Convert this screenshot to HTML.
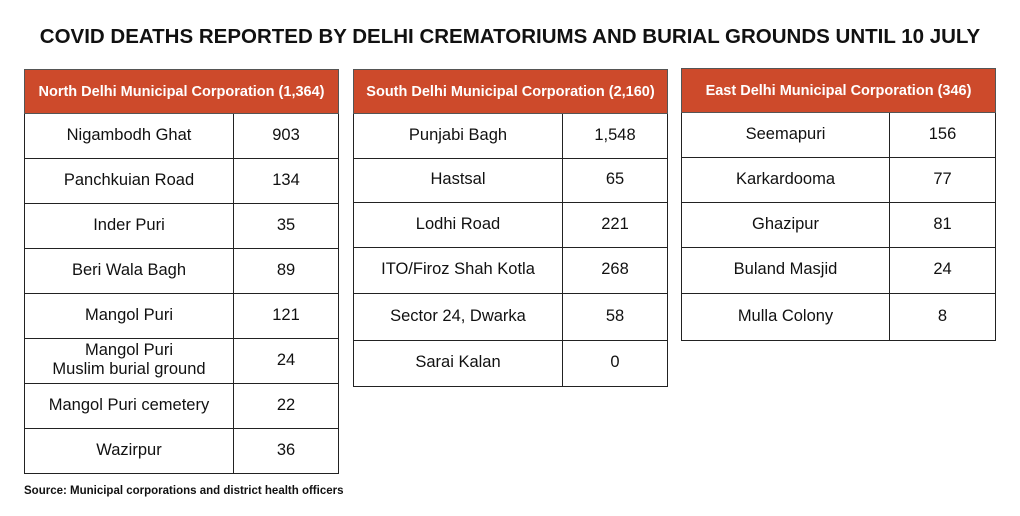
<!DOCTYPE html>
<html><head><meta charset="utf-8"><style>
body{margin:0;width:1020px;height:516px;background:#fff;font-family:"Liberation Sans",sans-serif;position:relative;overflow:hidden;color:#111}
.title{position:absolute;left:0;width:1020px;top:25px;text-align:center;font-weight:bold;font-size:20.5px;letter-spacing:0}
table{position:absolute;border-collapse:collapse;table-layout:fixed;width:314px}
th{background:#cd4a2b;color:#fff;font-size:14.5px;font-weight:bold;height:43px;padding:0;border:1px solid #555;text-align:center;white-space:nowrap}
td{border:1px solid #222;text-align:center;font-size:16.5px;padding:0 0 2px 0;line-height:19px;white-space:nowrap}
.src{position:absolute;left:24px;top:485px;font-size:11.5px;font-weight:bold}
</style></head><body>
<div class="title">COVID DEATHS REPORTED BY DELHI CREMATORIUMS AND BURIAL GROUNDS UNTIL 10 JULY</div>

<table style="left:24px;top:69px">
<colgroup><col style="width:209px"><col style="width:105px"></colgroup>
<tr><th colspan="2">North Delhi Municipal Corporation (1,364)</th></tr>
<tr style="height:45px"><td>Nigambodh Ghat</td><td>903</td></tr>
<tr style="height:45px"><td>Panchkuian Road</td><td>134</td></tr>
<tr style="height:45px"><td>Inder Puri</td><td>35</td></tr>
<tr style="height:45px"><td>Beri Wala Bagh</td><td>89</td></tr>
<tr style="height:45px"><td>Mangol Puri</td><td>121</td></tr>
<tr style="height:45px"><td>Mangol Puri<br>Muslim burial ground</td><td>24</td></tr>
<tr style="height:45px"><td>Mangol Puri cemetery</td><td>22</td></tr>
<tr style="height:45px"><td>Wazirpur</td><td>36</td></tr>
</table>

<table style="left:353px;top:69px">
<colgroup><col style="width:209px"><col style="width:105px"></colgroup>
<tr><th colspan="2">South Delhi Municipal Corporation (2,160)</th></tr>
<tr style="height:45px"><td>Punjabi Bagh</td><td>1,548</td></tr>
<tr style="height:44px"><td>Hastsal</td><td>65</td></tr>
<tr style="height:45px"><td>Lodhi Road</td><td>221</td></tr>
<tr style="height:46px"><td>ITO/Firoz Shah Kotla</td><td>268</td></tr>
<tr style="height:47px"><td>Sector 24, Dwarka</td><td>58</td></tr>
<tr style="height:46px"><td>Sarai Kalan</td><td>0</td></tr>
</table>

<table style="left:681px;top:68px">
<colgroup><col style="width:208px"><col style="width:106px"></colgroup>
<tr><th colspan="2">East Delhi Municipal Corporation (346)</th></tr>
<tr style="height:45px"><td>Seemapuri</td><td>156</td></tr>
<tr style="height:45px"><td>Karkardooma</td><td>77</td></tr>
<tr style="height:45px"><td>Ghazipur</td><td>81</td></tr>
<tr style="height:46px"><td>Buland Masjid</td><td>24</td></tr>
<tr style="height:47px"><td>Mulla Colony</td><td>8</td></tr>
</table>

<div class="src">Source: Municipal corporations and district health officers</div>
</body></html>
